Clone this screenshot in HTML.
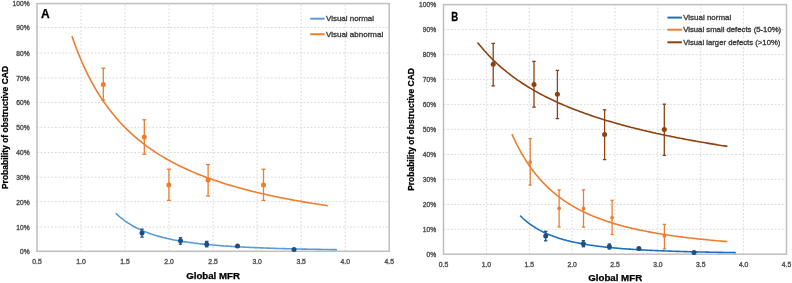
<!DOCTYPE html>
<html><head><meta charset="utf-8"><style>
html,body{margin:0;padding:0;background:#fff;}
body{width:792px;height:283px;overflow:hidden;}
svg{display:block;will-change:transform;filter:blur(0.25px);}
</style></head><body>
<svg width="792" height="283" viewBox="0 0 792 283" font-family='"Liberation Sans", sans-serif'>
<rect width="792" height="283" fill="#fff"/>
<line x1="37.0" y1="227.00" x2="389.2" y2="227.00" stroke="#D9D9D9" stroke-width="1" stroke-dasharray="1.8,1.8"/>
<line x1="37.0" y1="201.70" x2="389.2" y2="201.70" stroke="#D9D9D9" stroke-width="1" stroke-dasharray="1.8,1.8"/>
<line x1="37.0" y1="177.20" x2="389.2" y2="177.20" stroke="#D9D9D9" stroke-width="1" stroke-dasharray="1.8,1.8"/>
<line x1="37.0" y1="152.50" x2="389.2" y2="152.50" stroke="#D9D9D9" stroke-width="1" stroke-dasharray="1.8,1.8"/>
<line x1="37.0" y1="127.30" x2="389.2" y2="127.30" stroke="#D9D9D9" stroke-width="1" stroke-dasharray="1.8,1.8"/>
<line x1="37.0" y1="102.50" x2="389.2" y2="102.50" stroke="#D9D9D9" stroke-width="1" stroke-dasharray="1.8,1.8"/>
<line x1="37.0" y1="77.90" x2="389.2" y2="77.90" stroke="#D9D9D9" stroke-width="1" stroke-dasharray="1.8,1.8"/>
<line x1="37.0" y1="53.10" x2="389.2" y2="53.10" stroke="#D9D9D9" stroke-width="1" stroke-dasharray="1.8,1.8"/>
<line x1="37.0" y1="27.40" x2="389.2" y2="27.40" stroke="#D9D9D9" stroke-width="1" stroke-dasharray="1.8,1.8"/>
<line x1="81.03" y1="251.3" x2="81.03" y2="3.6" stroke="#D9D9D9" stroke-width="1" stroke-dasharray="1.8,1.8"/>
<line x1="125.05" y1="251.3" x2="125.05" y2="3.6" stroke="#D9D9D9" stroke-width="1" stroke-dasharray="1.8,1.8"/>
<line x1="169.07" y1="251.3" x2="169.07" y2="3.6" stroke="#D9D9D9" stroke-width="1" stroke-dasharray="1.8,1.8"/>
<line x1="213.10" y1="251.3" x2="213.10" y2="3.6" stroke="#D9D9D9" stroke-width="1" stroke-dasharray="1.8,1.8"/>
<line x1="257.12" y1="251.3" x2="257.12" y2="3.6" stroke="#D9D9D9" stroke-width="1" stroke-dasharray="1.8,1.8"/>
<line x1="301.15" y1="251.3" x2="301.15" y2="3.6" stroke="#D9D9D9" stroke-width="1" stroke-dasharray="1.8,1.8"/>
<line x1="345.18" y1="251.3" x2="345.18" y2="3.6" stroke="#D9D9D9" stroke-width="1" stroke-dasharray="1.8,1.8"/>
<rect x="37.0" y="3.6" width="352.2" height="247.70" fill="none" stroke="#BFBFBF" stroke-width="1.5"/>
<text transform="translate(29.6,254.10) scale(0.9,1)" text-anchor="end" font-size="7.4" fill="#595959" stroke="#595959" stroke-width="0.45">0%</text>
<text transform="translate(29.6,229.80) scale(0.9,1)" text-anchor="end" font-size="7.4" fill="#595959" stroke="#595959" stroke-width="0.45">10%</text>
<text transform="translate(29.6,204.50) scale(0.9,1)" text-anchor="end" font-size="7.4" fill="#595959" stroke="#595959" stroke-width="0.45">20%</text>
<text transform="translate(29.6,180.00) scale(0.9,1)" text-anchor="end" font-size="7.4" fill="#595959" stroke="#595959" stroke-width="0.45">30%</text>
<text transform="translate(29.6,155.30) scale(0.9,1)" text-anchor="end" font-size="7.4" fill="#595959" stroke="#595959" stroke-width="0.45">40%</text>
<text transform="translate(29.6,130.10) scale(0.9,1)" text-anchor="end" font-size="7.4" fill="#595959" stroke="#595959" stroke-width="0.45">50%</text>
<text transform="translate(29.6,105.30) scale(0.9,1)" text-anchor="end" font-size="7.4" fill="#595959" stroke="#595959" stroke-width="0.45">60%</text>
<text transform="translate(29.6,80.70) scale(0.9,1)" text-anchor="end" font-size="7.4" fill="#595959" stroke="#595959" stroke-width="0.45">70%</text>
<text transform="translate(29.6,55.90) scale(0.9,1)" text-anchor="end" font-size="7.4" fill="#595959" stroke="#595959" stroke-width="0.45">80%</text>
<text transform="translate(29.6,30.20) scale(0.9,1)" text-anchor="end" font-size="7.4" fill="#595959" stroke="#595959" stroke-width="0.45">90%</text>
<text transform="translate(29.6,6.40) scale(0.9,1)" text-anchor="end" font-size="7.4" fill="#595959" stroke="#595959" stroke-width="0.45">100%</text>
<text transform="translate(37.00,264.30) scale(0.92,1)" text-anchor="middle" font-size="7.4" fill="#595959" stroke="#595959" stroke-width="0.45">0.5</text>
<text transform="translate(81.03,264.30) scale(0.92,1)" text-anchor="middle" font-size="7.4" fill="#595959" stroke="#595959" stroke-width="0.45">1.0</text>
<text transform="translate(125.05,264.30) scale(0.92,1)" text-anchor="middle" font-size="7.4" fill="#595959" stroke="#595959" stroke-width="0.45">1.5</text>
<text transform="translate(169.07,264.30) scale(0.92,1)" text-anchor="middle" font-size="7.4" fill="#595959" stroke="#595959" stroke-width="0.45">2.0</text>
<text transform="translate(213.10,264.30) scale(0.92,1)" text-anchor="middle" font-size="7.4" fill="#595959" stroke="#595959" stroke-width="0.45">2.5</text>
<text transform="translate(257.12,264.30) scale(0.92,1)" text-anchor="middle" font-size="7.4" fill="#595959" stroke="#595959" stroke-width="0.45">3.0</text>
<text transform="translate(301.15,264.30) scale(0.92,1)" text-anchor="middle" font-size="7.4" fill="#595959" stroke="#595959" stroke-width="0.45">3.5</text>
<text transform="translate(345.18,264.30) scale(0.92,1)" text-anchor="middle" font-size="7.4" fill="#595959" stroke="#595959" stroke-width="0.45">4.0</text>
<text transform="translate(389.20,264.30) scale(0.92,1)" text-anchor="middle" font-size="7.4" fill="#595959" stroke="#595959" stroke-width="0.45">4.5</text>
<line x1="443.5" y1="229.30" x2="786.5" y2="229.30" stroke="#D9D9D9" stroke-width="1" stroke-dasharray="1.8,1.8"/>
<line x1="443.5" y1="204.40" x2="786.5" y2="204.40" stroke="#D9D9D9" stroke-width="1" stroke-dasharray="1.8,1.8"/>
<line x1="443.5" y1="179.30" x2="786.5" y2="179.30" stroke="#D9D9D9" stroke-width="1" stroke-dasharray="1.8,1.8"/>
<line x1="443.5" y1="154.40" x2="786.5" y2="154.40" stroke="#D9D9D9" stroke-width="1" stroke-dasharray="1.8,1.8"/>
<line x1="443.5" y1="129.30" x2="786.5" y2="129.30" stroke="#D9D9D9" stroke-width="1" stroke-dasharray="1.8,1.8"/>
<line x1="443.5" y1="104.40" x2="786.5" y2="104.40" stroke="#D9D9D9" stroke-width="1" stroke-dasharray="1.8,1.8"/>
<line x1="443.5" y1="79.30" x2="786.5" y2="79.30" stroke="#D9D9D9" stroke-width="1" stroke-dasharray="1.8,1.8"/>
<line x1="443.5" y1="54.60" x2="786.5" y2="54.60" stroke="#D9D9D9" stroke-width="1" stroke-dasharray="1.8,1.8"/>
<line x1="443.5" y1="29.60" x2="786.5" y2="29.60" stroke="#D9D9D9" stroke-width="1" stroke-dasharray="1.8,1.8"/>
<line x1="486.38" y1="254.2" x2="486.38" y2="4.6" stroke="#D9D9D9" stroke-width="1" stroke-dasharray="1.8,1.8"/>
<line x1="529.25" y1="254.2" x2="529.25" y2="4.6" stroke="#D9D9D9" stroke-width="1" stroke-dasharray="1.8,1.8"/>
<line x1="572.12" y1="254.2" x2="572.12" y2="4.6" stroke="#D9D9D9" stroke-width="1" stroke-dasharray="1.8,1.8"/>
<line x1="615.00" y1="254.2" x2="615.00" y2="4.6" stroke="#D9D9D9" stroke-width="1" stroke-dasharray="1.8,1.8"/>
<line x1="657.88" y1="254.2" x2="657.88" y2="4.6" stroke="#D9D9D9" stroke-width="1" stroke-dasharray="1.8,1.8"/>
<line x1="700.75" y1="254.2" x2="700.75" y2="4.6" stroke="#D9D9D9" stroke-width="1" stroke-dasharray="1.8,1.8"/>
<line x1="743.62" y1="254.2" x2="743.62" y2="4.6" stroke="#D9D9D9" stroke-width="1" stroke-dasharray="1.8,1.8"/>
<rect x="443.5" y="4.6" width="343.0" height="249.60" fill="none" stroke="#BFBFBF" stroke-width="1.5"/>
<text transform="translate(436.1,257.00) scale(0.9,1)" text-anchor="end" font-size="7.4" fill="#595959" stroke="#595959" stroke-width="0.45">0%</text>
<text transform="translate(436.1,232.10) scale(0.9,1)" text-anchor="end" font-size="7.4" fill="#595959" stroke="#595959" stroke-width="0.45">10%</text>
<text transform="translate(436.1,207.20) scale(0.9,1)" text-anchor="end" font-size="7.4" fill="#595959" stroke="#595959" stroke-width="0.45">20%</text>
<text transform="translate(436.1,182.10) scale(0.9,1)" text-anchor="end" font-size="7.4" fill="#595959" stroke="#595959" stroke-width="0.45">30%</text>
<text transform="translate(436.1,157.20) scale(0.9,1)" text-anchor="end" font-size="7.4" fill="#595959" stroke="#595959" stroke-width="0.45">40%</text>
<text transform="translate(436.1,132.10) scale(0.9,1)" text-anchor="end" font-size="7.4" fill="#595959" stroke="#595959" stroke-width="0.45">50%</text>
<text transform="translate(436.1,107.20) scale(0.9,1)" text-anchor="end" font-size="7.4" fill="#595959" stroke="#595959" stroke-width="0.45">60%</text>
<text transform="translate(436.1,82.10) scale(0.9,1)" text-anchor="end" font-size="7.4" fill="#595959" stroke="#595959" stroke-width="0.45">70%</text>
<text transform="translate(436.1,57.40) scale(0.9,1)" text-anchor="end" font-size="7.4" fill="#595959" stroke="#595959" stroke-width="0.45">80%</text>
<text transform="translate(436.1,32.40) scale(0.9,1)" text-anchor="end" font-size="7.4" fill="#595959" stroke="#595959" stroke-width="0.45">90%</text>
<text transform="translate(436.1,7.40) scale(0.9,1)" text-anchor="end" font-size="7.4" fill="#595959" stroke="#595959" stroke-width="0.45">100%</text>
<text transform="translate(443.50,267.10) scale(0.92,1)" text-anchor="middle" font-size="7.4" fill="#595959" stroke="#595959" stroke-width="0.45">0.5</text>
<text transform="translate(486.38,267.10) scale(0.92,1)" text-anchor="middle" font-size="7.4" fill="#595959" stroke="#595959" stroke-width="0.45">1.0</text>
<text transform="translate(529.25,267.10) scale(0.92,1)" text-anchor="middle" font-size="7.4" fill="#595959" stroke="#595959" stroke-width="0.45">1.5</text>
<text transform="translate(572.12,267.10) scale(0.92,1)" text-anchor="middle" font-size="7.4" fill="#595959" stroke="#595959" stroke-width="0.45">2.0</text>
<text transform="translate(615.00,267.10) scale(0.92,1)" text-anchor="middle" font-size="7.4" fill="#595959" stroke="#595959" stroke-width="0.45">2.5</text>
<text transform="translate(657.88,267.10) scale(0.92,1)" text-anchor="middle" font-size="7.4" fill="#595959" stroke="#595959" stroke-width="0.45">3.0</text>
<text transform="translate(700.75,267.10) scale(0.92,1)" text-anchor="middle" font-size="7.4" fill="#595959" stroke="#595959" stroke-width="0.45">3.5</text>
<text transform="translate(743.62,267.10) scale(0.92,1)" text-anchor="middle" font-size="7.4" fill="#595959" stroke="#595959" stroke-width="0.45">4.0</text>
<text transform="translate(786.50,267.10) scale(0.92,1)" text-anchor="middle" font-size="7.4" fill="#595959" stroke="#595959" stroke-width="0.45">4.5</text>
<text x="41" y="17.6" font-size="12" font-weight="bold" fill="#000" stroke="#000" stroke-width="0.25">A</text>
<text transform="translate(451.3,20.6) scale(0.8,1)" font-size="12" font-weight="bold" fill="#000" stroke="#000" stroke-width="0.25">B</text>
<text transform="translate(7.9,127.5) rotate(-90)" text-anchor="middle" font-size="8.4" font-weight="bold" fill="#000" stroke="#000" stroke-width="0.25" textLength="123.1" lengthAdjust="spacingAndGlyphs">Probability of obstructive CAD</text>
<text transform="translate(414.1,129.45) rotate(-90)" text-anchor="middle" font-size="8.4" font-weight="bold" fill="#000" stroke="#000" stroke-width="0.25" textLength="122.8" lengthAdjust="spacingAndGlyphs">Probability of obstructive CAD</text>
<text x="186.2" y="278.5" font-size="8.6" font-weight="bold" fill="#000" stroke="#000" stroke-width="0.25" textLength="53.7" lengthAdjust="spacingAndGlyphs">Global MFR</text>
<text x="588.2" y="281.4" font-size="8.6" font-weight="bold" fill="#000" stroke="#000" stroke-width="0.25" textLength="54" lengthAdjust="spacingAndGlyphs">Global MFR</text>
<line x1="310.2" y1="18.7" x2="324.6" y2="18.7" stroke="#5B9BD5" stroke-width="2"/>
<line x1="310.2" y1="34.2" x2="324.6" y2="34.2" stroke="#ED7D31" stroke-width="2"/>
<text x="326" y="21.3" font-size="7.4" fill="#404040" stroke="#404040" stroke-width="0.35" textLength="48" lengthAdjust="spacingAndGlyphs">Visual normal</text>
<text x="326" y="36.8" font-size="7.4" fill="#404040" stroke="#404040" stroke-width="0.35" textLength="57.2" lengthAdjust="spacingAndGlyphs">Visual abnormal</text>
<line x1="667.4" y1="17.6" x2="681.9" y2="17.6" stroke="#1F6FBF" stroke-width="2"/>
<line x1="667.4" y1="29.7" x2="681.9" y2="29.7" stroke="#ED7D31" stroke-width="2"/>
<line x1="667.4" y1="42.3" x2="681.9" y2="42.3" stroke="#8E4111" stroke-width="2"/>
<text x="683.2" y="20.2" font-size="7.4" fill="#404040" stroke="#404040" stroke-width="0.35" textLength="48" lengthAdjust="spacingAndGlyphs">Visual normal</text>
<text x="683.2" y="32.3" font-size="7.4" fill="#404040" stroke="#404040" stroke-width="0.35" textLength="98" lengthAdjust="spacingAndGlyphs">Visual small defects (5-10%)</text>
<text x="683.2" y="44.9" font-size="7.4" fill="#404040" stroke="#404040" stroke-width="0.35" textLength="97.2" lengthAdjust="spacingAndGlyphs">Visual larger defects (&gt;10%)</text>
<polyline points="71.96,36.23 73.57,40.85 75.17,45.27 76.78,49.52 78.39,53.60 80.00,57.52 81.61,61.30 83.22,64.94 84.83,68.44 86.44,71.82 88.05,75.09 89.66,78.23 91.27,81.28 92.88,84.22 94.49,87.06 96.09,89.81 97.70,92.48 99.31,95.06 100.92,97.56 102.53,99.98 104.14,102.33 105.75,104.62 107.36,106.83 108.97,108.98 110.58,111.08 112.19,113.11 113.80,115.08 115.41,117.01 117.02,118.88 118.62,120.70 120.23,122.47 121.84,124.20 123.45,125.88 125.06,127.52 126.67,129.12 128.28,130.68 129.89,132.20 131.50,133.69 133.11,135.14 134.72,136.55 136.33,137.94 137.94,139.29 139.55,140.61 141.15,141.90 142.76,143.16 144.37,144.39 145.98,145.60 147.59,146.78 149.20,147.94 150.81,149.07 152.42,150.18 154.03,151.26 155.64,152.32 157.25,153.36 158.86,154.38 160.47,155.38 162.07,156.36 163.68,157.32 165.29,158.27 166.90,159.19 168.51,160.10 170.12,160.99 171.73,161.86 173.34,162.72 174.95,163.56 176.56,164.38 178.17,165.19 179.78,165.99 181.39,166.77 183.00,167.54 184.60,168.29 186.21,169.04 187.82,169.77 189.43,170.48 191.04,171.19 192.65,171.88 194.26,172.56 195.87,173.23 197.48,173.89 199.09,174.54 200.70,175.18 202.31,175.81 203.92,176.42 205.52,177.03 207.13,177.63 208.74,178.22 210.35,178.80 211.96,179.37 213.57,179.94 215.18,180.49 216.79,181.04 218.40,181.58 220.01,182.11 221.62,182.63 223.23,183.14 224.84,183.65 226.45,184.15 228.05,184.65 229.66,185.13 231.27,185.61 232.88,186.08 234.49,186.55 236.10,187.01 237.71,187.46 239.32,187.91 240.93,188.35 242.54,188.79 244.15,189.22 245.76,189.64 247.37,190.06 248.98,190.47 250.58,190.88 252.19,191.28 253.80,191.68 255.41,192.07 257.02,192.46 258.63,192.84 260.24,193.22 261.85,193.59 263.46,193.96 265.07,194.33 266.68,194.68 268.29,195.04 269.90,195.39 271.50,195.74 273.11,196.08 274.72,196.42 276.33,196.75 277.94,197.08 279.55,197.41 281.16,197.73 282.77,198.05 284.38,198.37 285.99,198.68 287.60,198.99 289.21,199.29 290.82,199.59 292.43,199.89 294.03,200.19 295.64,200.48 297.25,200.77 298.86,201.05 300.47,201.33 302.08,201.61 303.69,201.89 305.30,202.16 306.91,202.43 308.52,202.70 310.13,202.96 311.74,203.22 313.35,203.48 314.96,203.74 316.56,203.99 318.17,204.24 319.78,204.49 321.39,204.74 323.00,204.98 324.61,205.22 326.22,205.46 327.83,205.70" fill="none" stroke="#ED7D31" stroke-width="1.6" stroke-linecap="butt" stroke-linejoin="round"/>
<polyline points="115.80,213.24 117.20,214.56 118.59,215.81 119.98,217.01 121.37,218.15 122.76,219.24 124.15,220.29 125.54,221.29 126.93,222.25 128.32,223.17 129.72,224.05 131.11,224.89 132.50,225.70 133.89,226.48 135.28,227.23 136.67,227.95 138.06,228.64 139.45,229.30 140.84,229.93 142.24,230.55 143.63,231.14 145.02,231.70 146.41,232.25 147.80,232.78 149.19,233.29 150.58,233.77 151.97,234.25 153.36,234.70 154.75,235.14 156.15,235.56 157.54,235.97 158.93,236.37 160.32,236.75 161.71,237.12 163.10,237.47 164.49,237.82 165.88,238.15 167.27,238.48 168.67,238.79 170.06,239.09 171.45,239.38 172.84,239.66 174.23,239.94 175.62,240.20 177.01,240.46 178.40,240.71 179.79,240.95 181.19,241.19 182.58,241.42 183.97,241.64 185.36,241.85 186.75,242.06 188.14,242.26 189.53,242.46 190.92,242.65 192.31,242.83 193.71,243.01 195.10,243.19 196.49,243.36 197.88,243.52 199.27,243.68 200.66,243.84 202.05,243.99 203.44,244.14 204.83,244.28 206.22,244.42 207.62,244.56 209.01,244.69 210.40,244.82 211.79,244.95 213.18,245.07 214.57,245.19 215.96,245.30 217.35,245.42 218.74,245.53 220.14,245.64 221.53,245.74 222.92,245.84 224.31,245.94 225.70,246.04 227.09,246.14 228.48,246.23 229.87,246.32 231.26,246.41 232.66,246.49 234.05,246.58 235.44,246.66 236.83,246.74 238.22,246.82 239.61,246.90 241.00,246.97 242.39,247.04 243.78,247.12 245.18,247.19 246.57,247.25 247.96,247.32 249.35,247.39 250.74,247.45 252.13,247.51 253.52,247.57 254.91,247.63 256.30,247.69 257.69,247.75 259.09,247.81 260.48,247.86 261.87,247.91 263.26,247.97 264.65,248.02 266.04,248.07 267.43,248.12 268.82,248.17 270.21,248.21 271.61,248.26 273.00,248.30 274.39,248.35 275.78,248.39 277.17,248.44 278.56,248.48 279.95,248.52 281.34,248.56 282.73,248.60 284.13,248.64 285.52,248.67 286.91,248.71 288.30,248.75 289.69,248.78 291.08,248.82 292.47,248.85 293.86,248.89 295.25,248.92 296.65,248.95 298.04,248.98 299.43,249.02 300.82,249.05 302.21,249.08 303.60,249.11 304.99,249.13 306.38,249.16 307.77,249.19 309.16,249.22 310.56,249.25 311.95,249.27 313.34,249.30 314.73,249.32 316.12,249.35 317.51,249.37 318.90,249.40 320.29,249.42 321.68,249.44 323.08,249.47 324.47,249.49 325.86,249.51 327.25,249.53 328.64,249.56 330.03,249.58 331.42,249.60 332.81,249.62 334.20,249.64 335.60,249.66 336.99,249.68" fill="none" stroke="#5B9BD5" stroke-width="1.6" stroke-linecap="butt" stroke-linejoin="round"/>
<line x1="103.30" y1="68.20" x2="103.30" y2="100.10" stroke="#ED7D31" stroke-width="1.3"/>
<line x1="101.30" y1="68.20" x2="105.30" y2="68.20" stroke="#ED7D31" stroke-width="1.3"/>
<line x1="101.30" y1="100.10" x2="105.30" y2="100.10" stroke="#ED7D31" stroke-width="1.3"/>
<circle cx="103.30" cy="84.60" r="2.5" fill="#ED7D31"/>
<line x1="144.30" y1="119.80" x2="144.30" y2="154.20" stroke="#ED7D31" stroke-width="1.3"/>
<line x1="142.30" y1="119.80" x2="146.30" y2="119.80" stroke="#ED7D31" stroke-width="1.3"/>
<line x1="142.30" y1="154.20" x2="146.30" y2="154.20" stroke="#ED7D31" stroke-width="1.3"/>
<circle cx="144.30" cy="137.00" r="2.5" fill="#ED7D31"/>
<line x1="168.90" y1="169.20" x2="168.90" y2="200.40" stroke="#ED7D31" stroke-width="1.3"/>
<line x1="166.90" y1="169.20" x2="170.90" y2="169.20" stroke="#ED7D31" stroke-width="1.3"/>
<line x1="166.90" y1="200.40" x2="170.90" y2="200.40" stroke="#ED7D31" stroke-width="1.3"/>
<circle cx="168.90" cy="185.10" r="2.5" fill="#ED7D31"/>
<line x1="208.10" y1="164.60" x2="208.10" y2="196.00" stroke="#ED7D31" stroke-width="1.3"/>
<line x1="206.10" y1="164.60" x2="210.10" y2="164.60" stroke="#ED7D31" stroke-width="1.3"/>
<line x1="206.10" y1="196.00" x2="210.10" y2="196.00" stroke="#ED7D31" stroke-width="1.3"/>
<circle cx="208.10" cy="180.00" r="2.5" fill="#ED7D31"/>
<line x1="263.50" y1="169.30" x2="263.50" y2="200.50" stroke="#ED7D31" stroke-width="1.3"/>
<line x1="261.50" y1="169.30" x2="265.50" y2="169.30" stroke="#ED7D31" stroke-width="1.3"/>
<line x1="261.50" y1="200.50" x2="265.50" y2="200.50" stroke="#ED7D31" stroke-width="1.3"/>
<circle cx="263.50" cy="185.10" r="2.5" fill="#ED7D31"/>
<line x1="142.00" y1="229.20" x2="142.00" y2="237.10" stroke="#1F4E84" stroke-width="1.3"/>
<line x1="140.30" y1="229.20" x2="143.70" y2="229.20" stroke="#1F4E84" stroke-width="1.3"/>
<line x1="140.30" y1="237.10" x2="143.70" y2="237.10" stroke="#1F4E84" stroke-width="1.3"/>
<circle cx="142.00" cy="232.90" r="2.5" fill="#1F4E84"/>
<line x1="180.50" y1="237.70" x2="180.50" y2="244.20" stroke="#1F4E84" stroke-width="1.3"/>
<line x1="178.80" y1="237.70" x2="182.20" y2="237.70" stroke="#1F4E84" stroke-width="1.3"/>
<line x1="178.80" y1="244.20" x2="182.20" y2="244.20" stroke="#1F4E84" stroke-width="1.3"/>
<circle cx="180.50" cy="240.80" r="2.5" fill="#1F4E84"/>
<line x1="206.70" y1="241.40" x2="206.70" y2="246.80" stroke="#1F4E84" stroke-width="1.3"/>
<line x1="205.00" y1="241.40" x2="208.40" y2="241.40" stroke="#1F4E84" stroke-width="1.3"/>
<line x1="205.00" y1="246.80" x2="208.40" y2="246.80" stroke="#1F4E84" stroke-width="1.3"/>
<circle cx="206.70" cy="244.20" r="2.5" fill="#1F4E84"/>
<circle cx="237.50" cy="245.90" r="2.5" fill="#1F4E84"/>
<circle cx="294.00" cy="249.60" r="2.5" fill="#1F4E84"/>
<polyline points="477.54,42.43 479.11,44.42 480.69,46.35 482.26,48.23 483.83,50.06 485.40,51.83 486.97,53.56 488.54,55.24 490.12,56.88 491.69,58.48 493.26,60.04 494.83,61.55 496.40,63.04 497.97,64.48 499.54,65.90 501.12,67.28 502.69,68.63 504.26,69.95 505.83,71.24 507.40,72.50 508.97,73.73 510.55,74.94 512.12,76.13 513.69,77.29 515.26,78.42 516.83,79.54 518.40,80.63 519.97,81.70 521.55,82.75 523.12,83.78 524.69,84.79 526.26,85.78 527.83,86.76 529.40,87.71 530.98,88.65 532.55,89.58 534.12,90.48 535.69,91.38 537.26,92.25 538.83,93.12 540.40,93.96 541.98,94.80 543.55,95.62 545.12,96.43 546.69,97.22 548.26,98.00 549.83,98.77 551.41,99.53 552.98,100.28 554.55,101.01 556.12,101.74 557.69,102.45 559.26,103.16 560.83,103.85 562.41,104.53 563.98,105.21 565.55,105.87 567.12,106.53 568.69,107.17 570.26,107.81 571.84,108.44 573.41,109.06 574.98,109.67 576.55,110.27 578.12,110.87 579.69,111.46 581.26,112.04 582.84,112.61 584.41,113.18 585.98,113.74 587.55,114.29 589.12,114.84 590.69,115.38 592.27,115.91 593.84,116.43 595.41,116.95 596.98,117.47 598.55,117.98 600.12,118.48 601.69,118.97 603.27,119.46 604.84,119.95 606.41,120.43 607.98,120.90 609.55,121.37 611.12,121.84 612.70,122.29 614.27,122.75 615.84,123.20 617.41,123.64 618.98,124.08 620.55,124.52 622.12,124.95 623.70,125.37 625.27,125.79 626.84,126.21 628.41,126.62 629.98,127.03 631.55,127.44 633.13,127.84 634.70,128.23 636.27,128.63 637.84,129.01 639.41,129.40 640.98,129.78 642.55,130.16 644.13,130.53 645.70,130.90 647.27,131.27 648.84,131.64 650.41,132.00 651.98,132.35 653.56,132.71 655.13,133.06 656.70,133.41 658.27,133.75 659.84,134.09 661.41,134.43 662.98,134.76 664.56,135.10 666.13,135.43 667.70,135.75 669.27,136.08 670.84,136.40 672.41,136.72 673.99,137.03 675.56,137.35 677.13,137.66 678.70,137.96 680.27,138.27 681.84,138.57 683.42,138.87 684.99,139.17 686.56,139.47 688.13,139.76 689.70,140.05 691.27,140.34 692.84,140.62 694.42,140.91 695.99,141.19 697.56,141.47 699.13,141.75 700.70,142.02 702.27,142.29 703.85,142.57 705.42,142.83 706.99,143.10 708.56,143.37 710.13,143.63 711.70,143.89 713.27,144.15 714.85,144.41 716.42,144.66 717.99,144.92 719.56,145.17 721.13,145.42 722.70,145.67 724.28,145.91 725.85,146.16 727.42,146.40" fill="none" stroke="#8E4111" stroke-width="1.6" stroke-linecap="butt" stroke-linejoin="round"/>
<polyline points="511.93,134.09 513.28,137.10 514.64,140.01 515.99,142.80 517.35,145.50 518.70,148.10 520.06,150.61 521.41,153.04 522.77,155.38 524.12,157.64 525.48,159.83 526.83,161.94 528.19,163.99 529.54,165.96 530.89,167.88 532.25,169.73 533.60,171.53 534.96,173.27 536.31,174.96 537.67,176.59 539.02,178.18 540.38,179.72 541.73,181.21 543.09,182.66 544.44,184.06 545.80,185.43 547.15,186.76 548.51,188.05 549.86,189.30 551.22,190.52 552.57,191.71 553.93,192.86 555.28,193.98 556.63,195.07 557.99,196.14 559.34,197.17 560.70,198.18 562.05,199.16 563.41,200.12 564.76,201.05 566.12,201.96 567.47,202.84 568.83,203.71 570.18,204.55 571.54,205.37 572.89,206.17 574.25,206.96 575.60,207.72 576.96,208.46 578.31,209.19 579.67,209.90 581.02,210.60 582.38,211.28 583.73,211.94 585.08,212.59 586.44,213.22 587.79,213.84 589.15,214.45 590.50,215.04 591.86,215.62 593.21,216.18 594.57,216.74 595.92,217.28 597.28,217.81 598.63,218.33 599.99,218.84 601.34,219.34 602.70,219.83 604.05,220.31 605.41,220.77 606.76,221.23 608.12,221.68 609.47,222.12 610.82,222.55 612.18,222.98 613.53,223.39 614.89,223.80 616.24,224.20 617.60,224.59 618.95,224.97 620.31,225.35 621.66,225.72 623.02,226.08 624.37,226.43 625.73,226.78 627.08,227.12 628.44,227.46 629.79,227.79 631.15,228.11 632.50,228.43 633.86,228.74 635.21,229.05 636.56,229.35 637.92,229.65 639.27,229.94 640.63,230.23 641.98,230.51 643.34,230.78 644.69,231.05 646.05,231.32 647.40,231.58 648.76,231.84 650.11,232.09 651.47,232.34 652.82,232.59 654.18,232.83 655.53,233.06 656.89,233.30 658.24,233.53 659.60,233.75 660.95,233.97 662.30,234.19 663.66,234.41 665.01,234.62 666.37,234.83 667.72,235.03 669.08,235.23 670.43,235.43 671.79,235.63 673.14,235.82 674.50,236.01 675.85,236.20 677.21,236.38 678.56,236.56 679.92,236.74 681.27,236.91 682.63,237.09 683.98,237.26 685.34,237.43 686.69,237.59 688.04,237.75 689.40,237.92 690.75,238.07 692.11,238.23 693.46,238.38 694.82,238.54 696.17,238.68 697.53,238.83 698.88,238.98 700.24,239.12 701.59,239.26 702.95,239.40 704.30,239.54 705.66,239.67 707.01,239.81 708.37,239.94 709.72,240.07 711.08,240.20 712.43,240.33 713.79,240.45 715.14,240.57 716.49,240.70 717.85,240.82 719.20,240.93 720.56,241.05 721.91,241.17 723.27,241.28 724.62,241.39 725.98,241.50 727.33,241.61" fill="none" stroke="#ED7D31" stroke-width="1.6" stroke-linecap="butt" stroke-linejoin="round"/>
<polyline points="520.16,215.61 521.52,216.96 522.87,218.24 524.23,219.47 525.58,220.64 526.94,221.76 528.30,222.83 529.65,223.86 531.01,224.84 532.36,225.78 533.72,226.68 535.07,227.54 536.43,228.37 537.79,229.16 539.14,229.92 540.50,230.66 541.85,231.36 543.21,232.03 544.57,232.68 545.92,233.31 547.28,233.91 548.63,234.49 549.99,235.04 551.34,235.58 552.70,236.09 554.06,236.59 555.41,237.07 556.77,237.53 558.12,237.98 559.48,238.41 560.84,238.82 562.19,239.22 563.55,239.61 564.90,239.98 566.26,240.35 567.61,240.70 568.97,241.03 570.33,241.36 571.68,241.68 573.04,241.98 574.39,242.28 575.75,242.56 577.10,242.84 578.46,243.11 579.82,243.37 581.17,243.62 582.53,243.87 583.88,244.10 585.24,244.33 586.60,244.56 587.95,244.77 589.31,244.98 590.66,245.19 592.02,245.38 593.37,245.57 594.73,245.76 596.09,245.94 597.44,246.12 598.80,246.29 600.15,246.46 601.51,246.62 602.87,246.77 604.22,246.93 605.58,247.08 606.93,247.22 608.29,247.36 609.64,247.50 611.00,247.63 612.36,247.76 613.71,247.89 615.07,248.01 616.42,248.13 617.78,248.25 619.14,248.36 620.49,248.47 621.85,248.58 623.20,248.69 624.56,248.79 625.91,248.89 627.27,248.99 628.63,249.08 629.98,249.17 631.34,249.27 632.69,249.35 634.05,249.44 635.41,249.52 636.76,249.61 638.12,249.69 639.47,249.77 640.83,249.84 642.18,249.92 643.54,249.99 644.90,250.06 646.25,250.13 647.61,250.20 648.96,250.27 650.32,250.33 651.68,250.40 653.03,250.46 654.39,250.52 655.74,250.58 657.10,250.64 658.45,250.69 659.81,250.75 661.17,250.81 662.52,250.86 663.88,250.91 665.23,250.96 666.59,251.01 667.94,251.06 669.30,251.11 670.66,251.16 672.01,251.20 673.37,251.25 674.72,251.29 676.08,251.34 677.44,251.38 678.79,251.42 680.15,251.46 681.50,251.50 682.86,251.54 684.21,251.58 685.57,251.62 686.93,251.65 688.28,251.69 689.64,251.72 690.99,251.76 692.35,251.79 693.71,251.83 695.06,251.86 696.42,251.89 697.77,251.92 699.13,251.96 700.48,251.99 701.84,252.02 703.20,252.04 704.55,252.07 705.91,252.10 707.26,252.13 708.62,252.16 709.98,252.18 711.33,252.21 712.69,252.24 714.04,252.26 715.40,252.29 716.75,252.31 718.11,252.33 719.47,252.36 720.82,252.38 722.18,252.40 723.53,252.43 724.89,252.45 726.25,252.47 727.60,252.49 728.96,252.51 730.31,252.53 731.67,252.55 733.02,252.57 734.38,252.59 735.74,252.61" fill="none" stroke="#1F6FBF" stroke-width="1.6" stroke-linecap="butt" stroke-linejoin="round"/>
<line x1="493.20" y1="43.40" x2="493.20" y2="85.90" stroke="#8E4111" stroke-width="1.3"/>
<line x1="491.45" y1="43.40" x2="494.95" y2="43.40" stroke="#8E4111" stroke-width="1.3"/>
<line x1="491.45" y1="85.90" x2="494.95" y2="85.90" stroke="#8E4111" stroke-width="1.3"/>
<circle cx="493.20" cy="64.30" r="2.5" fill="#8E4111"/>
<line x1="534.00" y1="61.40" x2="534.00" y2="107.10" stroke="#8E4111" stroke-width="1.3"/>
<line x1="532.25" y1="61.40" x2="535.75" y2="61.40" stroke="#8E4111" stroke-width="1.3"/>
<line x1="532.25" y1="107.10" x2="535.75" y2="107.10" stroke="#8E4111" stroke-width="1.3"/>
<circle cx="534.00" cy="84.50" r="2.5" fill="#8E4111"/>
<line x1="557.40" y1="70.40" x2="557.40" y2="118.60" stroke="#8E4111" stroke-width="1.3"/>
<line x1="555.65" y1="70.40" x2="559.15" y2="70.40" stroke="#8E4111" stroke-width="1.3"/>
<line x1="555.65" y1="118.60" x2="559.15" y2="118.60" stroke="#8E4111" stroke-width="1.3"/>
<circle cx="557.40" cy="94.20" r="2.5" fill="#8E4111"/>
<line x1="604.60" y1="109.80" x2="604.60" y2="159.60" stroke="#8E4111" stroke-width="1.3"/>
<line x1="602.85" y1="109.80" x2="606.35" y2="109.80" stroke="#8E4111" stroke-width="1.3"/>
<line x1="602.85" y1="159.60" x2="606.35" y2="159.60" stroke="#8E4111" stroke-width="1.3"/>
<circle cx="604.60" cy="134.40" r="2.5" fill="#8E4111"/>
<line x1="664.30" y1="104.20" x2="664.30" y2="155.40" stroke="#8E4111" stroke-width="1.3"/>
<line x1="662.55" y1="104.20" x2="666.05" y2="104.20" stroke="#8E4111" stroke-width="1.3"/>
<line x1="662.55" y1="155.40" x2="666.05" y2="155.40" stroke="#8E4111" stroke-width="1.3"/>
<circle cx="664.30" cy="129.60" r="2.5" fill="#8E4111"/>
<line x1="530.20" y1="138.60" x2="530.20" y2="185.10" stroke="#ED7D31" stroke-width="1.3"/>
<line x1="528.60" y1="138.60" x2="531.80" y2="138.60" stroke="#ED7D31" stroke-width="1.3"/>
<line x1="528.60" y1="185.10" x2="531.80" y2="185.10" stroke="#ED7D31" stroke-width="1.3"/>
<circle cx="530.20" cy="162.10" r="1.85" fill="#ED7D31"/>
<line x1="559.10" y1="189.90" x2="559.10" y2="227.00" stroke="#ED7D31" stroke-width="1.3"/>
<line x1="557.50" y1="189.90" x2="560.70" y2="189.90" stroke="#ED7D31" stroke-width="1.3"/>
<line x1="557.50" y1="227.00" x2="560.70" y2="227.00" stroke="#ED7D31" stroke-width="1.3"/>
<circle cx="559.10" cy="208.30" r="1.85" fill="#ED7D31"/>
<line x1="583.50" y1="189.80" x2="583.50" y2="227.10" stroke="#ED7D31" stroke-width="1.3"/>
<line x1="581.90" y1="189.80" x2="585.10" y2="189.80" stroke="#ED7D31" stroke-width="1.3"/>
<line x1="581.90" y1="227.10" x2="585.10" y2="227.10" stroke="#ED7D31" stroke-width="1.3"/>
<circle cx="583.50" cy="208.40" r="1.85" fill="#ED7D31"/>
<line x1="612.10" y1="200.30" x2="612.10" y2="234.50" stroke="#ED7D31" stroke-width="1.3"/>
<line x1="610.50" y1="200.30" x2="613.70" y2="200.30" stroke="#ED7D31" stroke-width="1.3"/>
<line x1="610.50" y1="234.50" x2="613.70" y2="234.50" stroke="#ED7D31" stroke-width="1.3"/>
<circle cx="612.10" cy="217.60" r="1.85" fill="#ED7D31"/>
<line x1="664.40" y1="224.40" x2="664.40" y2="248.90" stroke="#ED7D31" stroke-width="1.3"/>
<line x1="662.80" y1="224.40" x2="666.00" y2="224.40" stroke="#ED7D31" stroke-width="1.3"/>
<line x1="662.80" y1="248.90" x2="666.00" y2="248.90" stroke="#ED7D31" stroke-width="1.3"/>
<circle cx="664.40" cy="235.90" r="1.85" fill="#ED7D31"/>
<line x1="545.70" y1="231.30" x2="545.70" y2="240.80" stroke="#1F4E84" stroke-width="1.3"/>
<line x1="544.00" y1="231.30" x2="547.40" y2="231.30" stroke="#1F4E84" stroke-width="1.3"/>
<line x1="544.00" y1="240.80" x2="547.40" y2="240.80" stroke="#1F4E84" stroke-width="1.3"/>
<circle cx="545.70" cy="236.00" r="2.5" fill="#1F4E84"/>
<line x1="583.40" y1="240.70" x2="583.40" y2="246.70" stroke="#1F4E84" stroke-width="1.3"/>
<line x1="581.70" y1="240.70" x2="585.10" y2="240.70" stroke="#1F4E84" stroke-width="1.3"/>
<line x1="581.70" y1="246.70" x2="585.10" y2="246.70" stroke="#1F4E84" stroke-width="1.3"/>
<circle cx="583.40" cy="243.70" r="2.5" fill="#1F4E84"/>
<line x1="609.40" y1="244.00" x2="609.40" y2="249.00" stroke="#1F4E84" stroke-width="1.3"/>
<line x1="607.70" y1="244.00" x2="611.10" y2="244.00" stroke="#1F4E84" stroke-width="1.3"/>
<line x1="607.70" y1="249.00" x2="611.10" y2="249.00" stroke="#1F4E84" stroke-width="1.3"/>
<circle cx="609.40" cy="246.60" r="2.5" fill="#1F4E84"/>
<circle cx="638.90" cy="248.60" r="2.5" fill="#1F4E84"/>
<circle cx="694.00" cy="252.50" r="2.5" fill="#1F4E84"/>
</svg>
</body></html>
